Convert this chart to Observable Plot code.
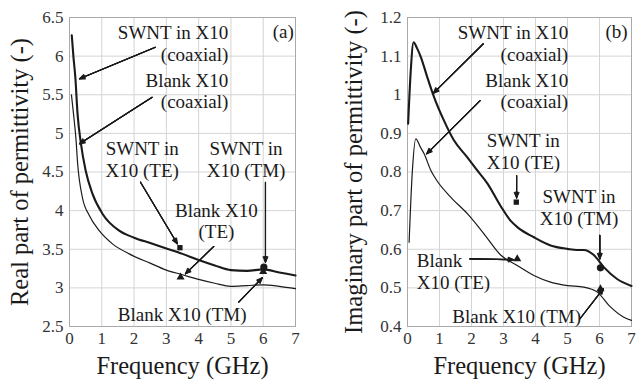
<!DOCTYPE html>
<html><head><meta charset="utf-8">
<script src="https://cdn.jsdelivr.net/npm/d3@7"></script>
<script src="https://cdn.jsdelivr.net/npm/@observablehq/plot@0.6"></script>
<style>
body{margin:0;background:#fff;}
#wrap{position:relative;width:636px;height:381px;overflow:hidden;background:#fff;}
#a,#b{position:absolute;top:0;}
#a{left:0}#b{left:318px}
#wrap svg{overflow:visible}
#wrap svg, #wrap svg text, #wrap svg g{font-family:"Liberation Serif", "Times New Roman", serif !important;}
</style></head><body><div id="wrap"><div id="a"></div><div id="b"></div></div>
<script>
// ---- ticks ----
const xTicks = [0,1,2,3,4,5,6,7];
const realTicks = [2.5,3,3.5,4,4.5,5,5.5,6,6.5];
const imagTicks = [0.4,0.5,0.6,0.7,0.8,0.9,1,1.1,1.2];
const xLabel = "Frequency (GHz)";
const realLabel = "Real part of permittivity (-)";
const imagLabel = "Imaginary part of permittivity (-)";

// ---- (a) real part, coaxial curves ----
const fReSwnt  = [0.07,0.12,0.18,0.25,0.35,0.5,0.71,1.02,1.54,2.0,2.5,3.0,3.5,4.0,4.5,5.0,5.5,6.0,6.5,7.0];
const reSwnt   = [6.27,6.0,5.73,5.25,4.88,4.52,4.22,3.96,3.74,3.65,3.58,3.51,3.44,3.36,3.29,3.23,3.22,3.24,3.20,3.16];
const fReBlank = [0.06,0.15,0.2,0.25,0.4,0.61,0.92,1.33,1.85,2.5,3.0,3.5,4.0,4.5,5.0,5.5,6.0,6.5,7.0];
const reBlank  = [5.50,5.15,4.93,4.62,4.17,3.94,3.74,3.57,3.44,3.32,3.23,3.17,3.11,3.06,3.02,3.03,3.04,3.02,2.99];

// ---- (b) imaginary part, coaxial curves ----
const fImSwnt  = [0.02,0.1,0.19,0.3,0.42,0.62,0.83,1.14,1.45,1.87,2.18,2.5,2.91,3.22,3.45,3.95,4.47,5.0,5.3,5.51,5.82,6.14,6.55,7.0];
const imSwnt   = [0.925,1.06,1.136,1.12,1.097,1.045,0.994,0.933,0.882,0.838,0.804,0.77,0.712,0.674,0.656,0.631,0.61,0.601,0.598,0.598,0.585,0.553,0.523,0.505];
const fImBlank = [0.05,0.15,0.26,0.4,0.52,0.73,0.9,1.35,1.87,2.39,2.91,3.43,3.95,4.47,5.0,5.51,5.93,6.35,6.76,7.0];
const imBlank  = [0.618,0.80,0.886,0.865,0.847,0.804,0.78,0.735,0.692,0.64,0.585,0.558,0.532,0.515,0.506,0.502,0.489,0.45,0.424,0.416];

// ---- waveguide point measurements ----
const ptNames   = ["SWNT TE","Blank TE","SWNT TM","Blank TM"];
const ptSymbols = ["square","triangle","circle","triangle"];
const ptF       = [3.42,3.44,6.02,6.0];
const ptRe      = [3.52,3.14,3.27,3.21];
const ptFIm     = [3.4,3.43,6.03,6.03];
const ptIm      = [0.722,0.575,0.552,0.497];

// ---- annotations (a) ----
const annA = [
  {t:"SWNT in X10\n(coaxial)", x:4.92, y:6.17, a:"end"},
  {t:"Blank X10\n(coaxial)",   x:4.92, y:5.555, a:"end"},
  {t:"SWNT in\nX10 (TE)",      x:2.25, y:4.67, a:"middle"},
  {t:"SWNT in\nX10 (TM)",      x:5.47, y:4.67, a:"middle"},
  {t:"Blank X10\n(TE)",        x:4.55, y:3.872, a:"middle"},
  {t:"Blank X10 (TM)",         x:3.49, y:2.664, a:"middle"},
  {t:"(a)",                    x:6.62, y:6.33, a:"middle"}
];
const arrA = [
  {x1:2.66,y1:6.115,x2:0.31,y2:5.706},
  {x1:2.56,y1:5.468,x2:0.31,y2:4.865},
  {x1:2.20,y1:4.368,x2:3.34,y2:3.57},
  {x1:6.07,y1:4.368,x2:6.07,y2:3.332},
  {x1:4.47,y1:3.536,x2:3.59,y2:3.182},
  {x1:5.24,y1:2.815,x2:5.97,y2:3.13}
];
// ---- annotations (b) ----
const annB = [
  {t:"SWNT in X10\n(coaxial)", x:5.02, y:1.134, a:"end"},
  {t:"Blank X10\n(coaxial)",   x:5.02, y:1.011, a:"end"},
  {t:"SWNT in\nX10 (TE)",      x:2.48, y:0.854, a:"start"},
  {t:"SWNT in\nX10 (TM)",      x:5.36, y:0.709, a:"middle"},
  {t:"Blank\nX10 (TE)",        x:0.29, y:0.543, a:"start"},
  {t:"Blank X10 (TM)",         x:3.41, y:0.428, a:"middle"},
  {t:"(b)",                    x:6.53, y:1.166, a:"middle"}
];
const arrB = [
  {x1:2.37,y1:1.132,x2:0.81,y2:1.004},
  {x1:2.27,y1:0.985,x2:0.60,y2:0.847},
  {x1:3.41,y1:0.791,x2:3.41,y2:0.733},
  {x1:6.01,y1:0.636,x2:6.01,y2:0.575},
  {x1:1.95,y1:0.575,x2:3.32,y2:0.573},
  {x1:5.39,y1:0.42,x2:6.12,y2:0.498}
];

const FONT = "Liberation Serif";
const INK = "#1a1a1a";
const fmt = d => String(d);

function zip(fs, vs){ return fs.map((f,i)=>({f, v:vs[i]})); }

const ptsA = ptNames.map((n,i)=>({n, s:ptSymbols[i], f:ptF[i], v:ptRe[i]}));
const ptsB = ptNames.map((n,i)=>({n, s:ptSymbols[i], f:ptFIm[i], v:ptIm[i]}));

function build(el, ml, mr, yDomain, yTicks, yLabel, yLabelDx, swnt, blank, pts, ann, arr){
  const arrowMarks = [48,34,20,6].map(ang => Plot.arrow(arr, {x1:"x1",y1:"y1",x2:"x2",y2:"y2",
    stroke:INK, strokeWidth:1.1, headLength:8, headAngle:ang}));
  const textMarks = ["start","middle","end"].map(a => Plot.text(ann.filter(d=>d.a===a), {x:"x", y:"y", text:"t",
    textAnchor:a, lineAnchor:"middle", lineHeight:1.15, fontSize:19, fill:INK, fontFamily:FONT}));
  const p = Plot.plot({
    width:318, height:381, marginLeft:ml, marginRight:mr, marginTop:17, marginBottom:55,
    style:{fontFamily:FONT, fontSize:"17px", color:INK, background:"transparent", overflow:"visible"},
    x:{domain:[0,7]},
    y:{domain:yDomain},
    marks:[
      Plot.gridX(xTicks, {stroke:"#d4d4d4", strokeOpacity:1, strokeWidth:1}),
      Plot.gridY(yTicks, {stroke:"#d4d4d4", strokeOpacity:1, strokeWidth:1}),
      Plot.frame({stroke:"#aaa", strokeWidth:1}),
      Plot.axisX(xTicks, {tickSize:0, tickPadding:5, tickFormat:fmt, label:null, fontSize:17, fill:"#333", fontFamily:FONT}),
      Plot.axisY(yTicks, {tickSize:0, tickPadding:6, tickFormat:fmt, label:null, fontSize:17, fill:"#333", fontFamily:FONT}),
      Plot.text([xLabel], {frameAnchor:"bottom", dy:40, textAnchor:"middle", lineAnchor:"middle", fontSize:24.5, fill:INK, fontFamily:FONT}),
      Plot.text([yLabel], {frameAnchor:"left", dx:yLabelDx, rotate:-90, textAnchor:"middle", lineAnchor:"middle", fontSize:24.5, fill:INK, fontFamily:FONT}),
      Plot.line(blank, {x:"f", y:"v", stroke:INK, strokeWidth:1.2, curve:"monotone-x"}),
      Plot.line(swnt, {x:"f", y:"v", stroke:INK, strokeWidth:2.1, curve:"monotone-x"}),
      ...arrowMarks,
      Plot.dot(pts.filter(d=>d.s==="square"), {x:"f", y:"v", symbol:"square", r:3, fill:INK, stroke:"none"}),
      Plot.dot(pts.filter(d=>d.s==="triangle"), {x:"f", y:"v", symbol:"triangle", r:3, fill:INK, stroke:"none"}),
      Plot.dot(pts.filter(d=>d.s==="circle"), {x:"f", y:"v", symbol:"circle", r:3.6, fill:INK, stroke:"none"}),
      ...textMarks
    ]
  });
  document.getElementById(el).appendChild(p);
}

build("a", 69, 23, [2.5,6.5], realTicks, realLabel, -49, zip(fReSwnt, reSwnt), zip(fReBlank, reBlank), ptsA, annA, arrA);
build("b", 89, 5, [0.4,1.2], imagTicks, imagLabel, -53, zip(fImSwnt, imSwnt), zip(fImBlank, imBlank), ptsB, annB, arrB);
</script></body></html>
